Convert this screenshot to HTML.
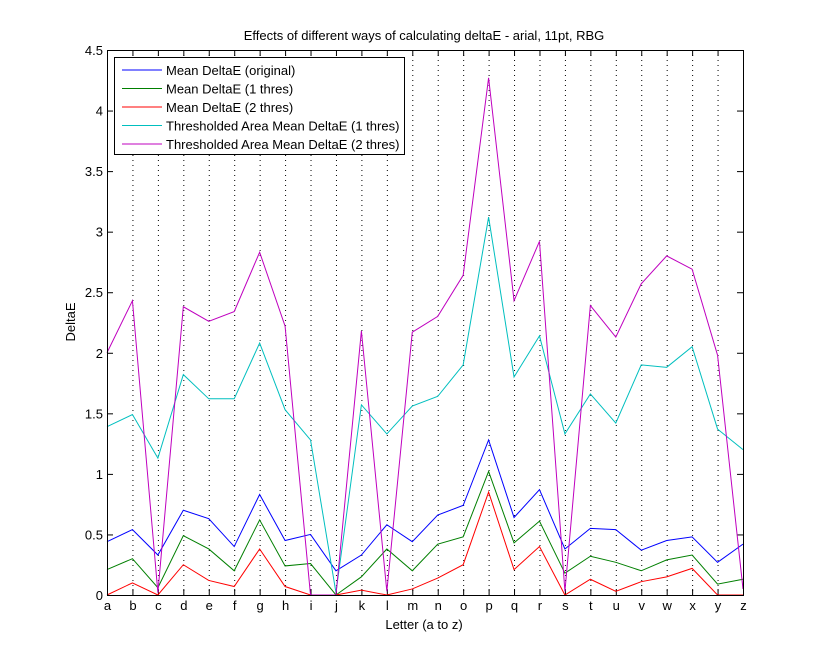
<!DOCTYPE html>
<html><head><meta charset="utf-8"><style>
body{margin:0;background:#fff;}
svg{display:block;font-family:"Liberation Sans",sans-serif;}
</style></head><body>
<svg id="s" width="821" height="669" xmlns="http://www.w3.org/2000/svg">
<rect width="821" height="669" fill="#fff"/>
</svg>
<script>
var s=document.getElementById('s'),L=107,R=743,T=50,B=595;
var dx=(R-L)/25,ky=(B-T)/4.5;
function X(i){return L+i*dx}function Y(v){return B-v*ky}
var h='<rect x="'+L+'" y="'+T+'" width="'+(R-L)+'" height="'+(B-T)+'" fill="#fff"/>';
var lt='abcdefghijklmnopqrstuvwxyz';
for(var i=0;i<26;i++){var x=X(i)+0.5;
 if(i>0&&i<25)h+='<line x1="'+x+'" y1="'+T+'" x2="'+x+'" y2="'+B+'" stroke="#000" stroke-dasharray="1,4"/>';
 h+='<line x1="'+x+'" y1="'+T+'" x2="'+x+'" y2="'+(T+6)+'" stroke="#000"/><line x1="'+x+'" y1="'+B+'" x2="'+x+'" y2="'+(B-6)+'" stroke="#000"/>';
 h+='<text x="'+x+'" y="610" font-size="13" text-anchor="middle">'+lt[i]+'</text>';}
for(var j=0;j<=9;j++){var v=j*0.5,y=Y(v)+0.5;
 h+='<line x1="'+L+'" y1="'+y+'" x2="'+(L+6)+'" y2="'+y+'" stroke="#000"/><line x1="'+R+'" y1="'+y+'" x2="'+(R-6)+'" y2="'+y+'" stroke="#000"/>';
 h+='<text x="'+(L-4)+'" y="'+(y+4.5)+'" font-size="13" text-anchor="end">'+v+'</text>';}
var D=[
['#00f',[.44,.54,.33,.70,.63,.40,.83,.45,.50,.20,.33,.58,.44,.66,.74,1.28,.64,.87,.38,.55,.54,.37,.45,.48,.27,.42]],
['#007f00',[.21,.30,.06,.49,.38,.20,.62,.24,.26,0,.15,.38,.20,.42,.48,1.02,.43,.61,.18,.32,.27,.20,.29,.33,.09,.13]],
['#f00',[0,.10,0,.25,.12,.07,.38,.07,0,0,.04,0,.05,.14,.25,.85,.21,.40,0,.13,.03,.11,.15,.22,0,0]],
['#00bfbf',[1.39,1.49,1.13,1.82,1.62,1.62,2.08,1.53,1.28,.02,1.57,1.33,1.56,1.64,1.90,3.12,1.80,2.14,1.33,1.66,1.42,1.90,1.88,2.05,1.37,1.20]],
['#bf00bf',[2.0,2.43,.02,2.38,2.26,2.34,2.83,2.22,0,0,2.18,.03,2.17,2.30,2.64,4.27,2.43,2.92,.03,2.39,2.13,2.57,2.80,2.69,1.98,.05]]];
D.forEach(function(d){var p=d[1].map(function(v,i){return X(i)+','+Y(v)}).join(' ');
 h+='<polyline points="'+p+'" fill="none" stroke="'+d[0]+'" stroke-width="1"/>';});
h+='<rect x="'+(L+0.5)+'" y="'+(T+0.5)+'" width="'+(R-L)+'" height="'+(B-T)+'" fill="none" stroke="#000"/>';
h+='<rect x="114.5" y="57.5" width="290" height="97" fill="#fff" stroke="#000"/>';
var names=['Mean DeltaE (original)','Mean DeltaE (1 thres)','Mean DeltaE (2 thres)','Thresholded Area Mean DeltaE (1 thres)','Thresholded Area Mean DeltaE (2 thres)'];
for(var k=0;k<5;k++){var y=70+k*18.5;
 h+='<line x1="122" y1="'+y+'" x2="162" y2="'+y+'" stroke="'+D[k][0]+'"/>';
 h+='<text x="166" y="'+(y+5)+'" font-size="13">'+names[k]+'</text>';}
h+='<text x="424" y="40" font-size="13" text-anchor="middle">Effects of different ways of calculating deltaE - arial, 11pt, RBG</text>';
h+='<text x="424" y="629" font-size="13" text-anchor="middle">Letter (a to z)</text>';
h+='<text x="75" y="322" font-size="13" text-anchor="middle" transform="rotate(-90 75 322)">DeltaE</text>';
s.innerHTML+=h;
</script>
</body></html>
